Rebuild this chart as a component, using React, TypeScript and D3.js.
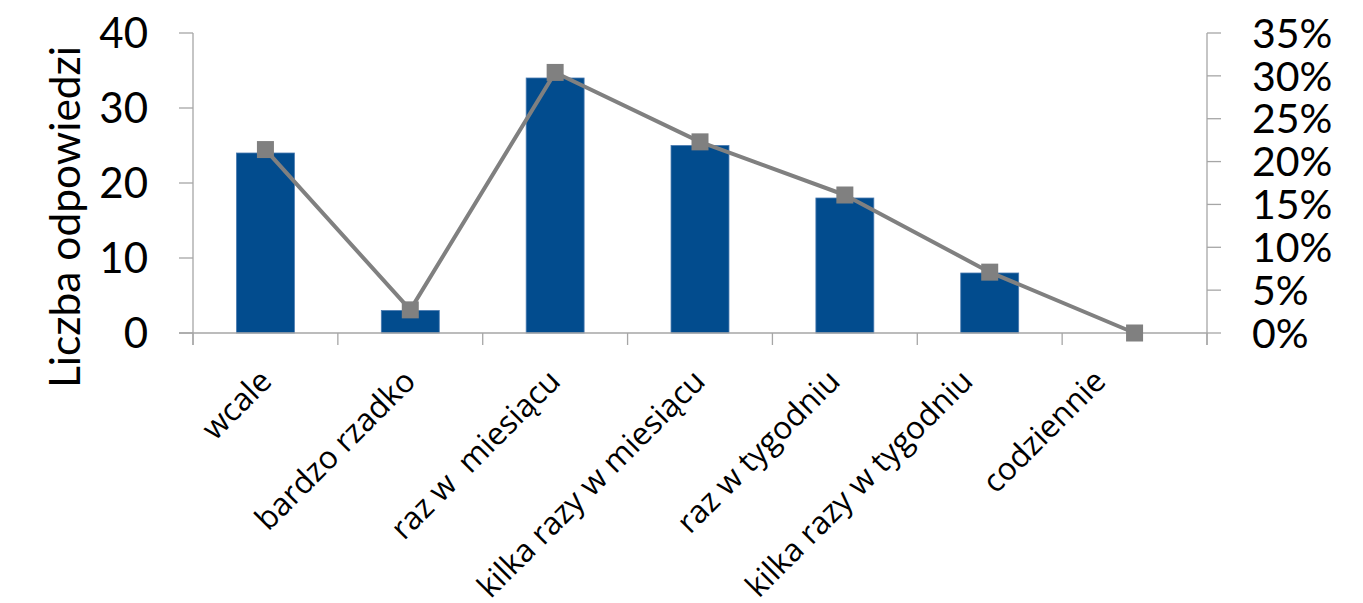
import React from "react";
import * as d3 from "d3";

// Survey answers: how often respondents do the activity
const categories = [
  "wcale",
  "bardzo rzadko",
  "raz w  miesiącu",
  "kilka razy w miesiącu",
  "raz w tygodniu",
  "kilka razy w tygodniu",
  "codziennie",
];

// Number of answers per category (left axis)
const counts = [24, 3, 34, 25, 18, 8, 0];

// Share of answers per category, in % (right axis)
const shares = [21.4, 2.7, 30.4, 22.3, 16.1, 7.1, 0];

const countTicks = [0, 10, 20, 30, 40];
const shareTicks = [0, 5, 10, 15, 20, 25, 30, 35];

const yTitle = "Liczba odpowiedzi";

// Layout
const W = 1363;
const H = 603;
const plot = { left: 193, right: 1207, top: 33, bottom: 333 };
// small horizontal nudges applied to the rotated category labels
const labelNudge = [8, 7, 7, 7, -3, -15, -27];

const BAR = "#024C8E";
const LINE = "#808080";
const AXIS = "#A6A6A6";
const NUM_FONT = "Lato, 'Open Sans', sans-serif";
const CAT_FONT = "'Open Sans', 'DejaVu Sans', sans-serif";

export default function App() {
  const x = d3
    .scaleBand<string>()
    .domain(categories)
    .range([plot.left, plot.right])
    .paddingInner(0)
    .paddingOuter(0);
  const step = x.step();
  const barW = step * 0.4;

  const yL = d3.scaleLinear().domain([0, 40]).range([plot.bottom, plot.top]);
  const yR = d3.scaleLinear().domain([0, 35]).range([plot.bottom, plot.top]);

  const cx = (c: string) => (x(c) as number) + step / 2;

  const linePath = d3
    .line<number>()
    .x((_, i) => cx(categories[i]))
    .y((d) => yR(d))(shares) as string;

  const catBounds = d3.range(categories.length + 1).map((i) => plot.left + i * step);

  return (
    <div style={{ position: "absolute", left: 0, top: 0 }}>
      <svg width={W} height={H} style={{ display: "block", background: "#fff" }}>
        {/* bars */}
        {counts.map((v, i) => (
          <rect
            key={categories[i]}
            x={cx(categories[i]) - barW / 2}
            y={yL(v)}
            width={barW}
            height={plot.bottom - yL(v)}
            fill={BAR}
            stroke="#4A7AB0"
            strokeWidth={0.8}
          />
        ))}

        {/* left axis */}
        <line x1={plot.left} x2={plot.left} y1={plot.top} y2={plot.bottom + 12} stroke={AXIS} strokeWidth={1.3} />
        {countTicks.map((t) => (
          <g key={"l" + t}>
            <line x1={plot.left - 14} x2={plot.left} y1={yL(t)} y2={yL(t)} stroke={AXIS} strokeWidth={1.3} />
            <text
              x={148}
              y={yL(t)}
              dy="0.36em"
              textAnchor="end"
              style={{ fontFamily: NUM_FONT, fontSize: 42 }}
              fill="#000"
            >
              {t}
            </text>
          </g>
        ))}

        {/* right axis */}
        <line x1={plot.right} x2={plot.right} y1={plot.top} y2={plot.bottom + 12} stroke={AXIS} strokeWidth={1.3} />
        {shareTicks.map((t) => (
          <g key={"r" + t}>
            <line x1={plot.right} x2={plot.right + 14} y1={yR(t)} y2={yR(t)} stroke={AXIS} strokeWidth={1.3} />
            <text
              x={1252}
              y={yR(t)}
              dy="0.36em"
              textAnchor="start"
              style={{ fontFamily: NUM_FONT, fontSize: 41 }}
              fill="#000"
            >
              {t + "%"}
            </text>
          </g>
        ))}

        {/* category axis */}
        <line x1={plot.left - 14} x2={plot.right} y1={plot.bottom} y2={plot.bottom} stroke={AXIS} strokeWidth={1.3} />
        {catBounds.map((bx, i) => (
          <line key={"c" + i} x1={bx} x2={bx} y1={plot.bottom} y2={plot.bottom + 12} stroke={AXIS} strokeWidth={1.3} />
        ))}
        {categories.map((c, i) => (
          <text
            key={"t" + c}
            transform={`translate(${cx(c) + labelNudge[i]},${plot.bottom + 50}) rotate(-45)`}
            textAnchor="end"
            fill="#000"
            style={{ fontFamily: CAT_FONT, fontSize: 31.5, whiteSpace: "pre" }}
          >
            {c}
          </text>
        ))}

        {/* share line with square markers */}
        <path d={linePath} fill="none" stroke={LINE} strokeWidth={4} strokeLinejoin="round" />
        {shares.map((v, i) => (
          <rect
            key={"m" + i}
            x={cx(categories[i]) - 8.5}
            y={yR(v) - 8.5}
            width={17}
            height={17}
            fill={LINE}
          />
        ))}

        {/* y axis title */}
        <text
          transform={`translate(80,217) rotate(-90)`}
          textAnchor="middle"
          fill="#000"
          style={{ fontFamily: NUM_FONT, fontSize: 42.5 }}
        >
          {yTitle}
        </text>
      </svg>
    </div>
  );
}
